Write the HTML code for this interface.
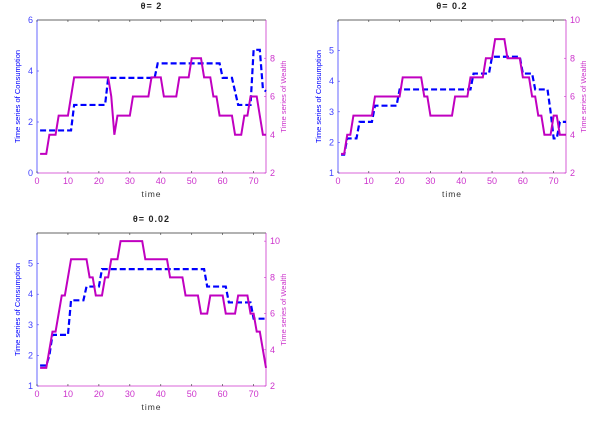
<!DOCTYPE html>
<html><head><meta charset="utf-8"><style>
body{margin:0;background:#fff;width:600px;height:424px;overflow:hidden;font-family:"Liberation Sans",sans-serif}
svg text{font-family:"Liberation Sans",sans-serif}
</style></head><body>
<svg id="svg" width="600" height="424"></svg>
<script>
const times = Array.from({length:74},(_, i)=>i+1);
const c1Cons = [1.67,1.67,1.67,1.67,1.67,1.67,1.67,1.67,1.67,1.67,1.67,2.67,2.67,2.67,2.67,2.67,2.67,2.67,2.67,2.67,2.67,2.67,3.73,3.73,3.73,3.73,3.73,3.73,3.73,3.73,3.73,3.73,3.73,3.73,3.73,3.73,3.73,3.73,4.3,4.3,4.3,4.3,4.3,4.3,4.3,4.3,4.3,4.3,4.3,4.3,4.3,4.3,4.3,4.3,4.3,4.3,4.3,4.3,4.3,3.73,3.73,3.73,3.73,3.2,2.67,2.67,2.67,2.67,2.67,4.83,4.83,4.83,3.3,3.2];
const c1Wealth = [3,3,3,4,4,4,5,5,5,5,6,7,7,7,7,7,7,7,7,7,7,7,7,6,4,5,5,5,5,5,6,6,6,6,6,6,7,7,7,7,6,6,6,6,6,7,7,7,7,8,8,8,8,7,7,7,6,6,5,5,5,5,5,4,4,4,5,5,6,6,6,5,4,4];
const c2Cons = [1.6,1.6,2.13,2.13,2.13,2.13,2.67,2.67,2.67,2.67,2.67,3.2,3.2,3.2,3.2,3.2,3.2,3.2,3.2,3.73,3.73,3.73,3.73,3.73,3.73,3.73,3.73,3.73,3.73,3.73,3.73,3.73,3.73,3.73,3.73,3.73,3.73,3.73,3.73,3.73,3.73,3.73,3.73,4.25,4.25,4.25,4.25,4.25,4.25,4.8,4.8,4.8,4.8,4.8,4.8,4.8,4.8,4.8,4.8,4.25,4.25,4.25,4.25,3.73,3.73,3.73,3.73,3.73,3.0,2.13,2.13,2.67,2.67,2.67];
const c2Wealth = [3,3,4,4,5,5,5,5,5,5,5,6,6,6,6,6,6,6,6,6,7,7,7,7,7,7,7,6,6,5,5,5,5,5,5,5,5,6,6,6,6,6,7,7,7,7,7,8,8,8,9,9,9,9,8,8,8,8,8,7,7,7,6,6,5,5,4,4,4,5,5,4,4,4];
const c3Cons = [1.67,1.67,1.67,2.0,2.67,2.67,2.67,2.67,2.67,2.67,3.8,3.8,3.8,3.8,3.8,4.25,4.25,4.25,4.25,4.25,4.82,4.82,4.82,4.82,4.82,4.82,4.82,4.82,4.82,4.82,4.82,4.82,4.82,4.82,4.82,4.82,4.82,4.82,4.82,4.82,4.82,4.82,4.82,4.82,4.82,4.82,4.82,4.82,4.82,4.82,4.82,4.82,4.82,4.82,4.25,4.25,4.25,4.25,4.25,4.25,4.25,3.73,3.73,3.73,3.73,3.73,3.73,3.73,3.73,3.2,3.2,3.2,3.2,3.2];
const c3Wealth = [3,3,3,4,5,5,6,7,7,8,9,9,9,9,9,9,8,8,7,7,7,8,8,9,9,9,10,10,10,10,10,10,10,10,9,9,9,9,9,9,9,9,8,8,8,8,8,7,7,7,7,7,6,6,6,7,7,7,7,7,6,6,6,6,7,7,7,7,6,6,5,5,4,3];
const xTicks = [0,10,20,30,40,50,60,70];
const c1LeftTicks = [0,2,4,6], c1RightTicks = [2,4,6,8];
const c2LeftTicks = [1,2,3,4,5], c2RightTicks = [2,4,6,8,10];
const c3LeftTicks = [1,2,3,4,5], c3RightTicks = [2,4,6,8,10];

const svg = document.getElementById('svg');
const NS = 'http://www.w3.org/2000/svg';
function mk(tag, attrs, parent){const e=document.createElementNS(NS,tag);for(const k in attrs)e.setAttribute(k,attrs[k]);(parent||svg).appendChild(e);return e;}
const BLUE='#0000ff', MAG='#c000c0', LBLUE='#4040ff', LMAG='#cc33cc';

function drawChart(o){
  const g = mk('g',{});
  
  
  const X = t => o.x0 + (t-0)/(74-0)*(o.x1-o.x0);
  const YL = v => o.y1 - (v-o.lmin)/(o.lmax-o.lmin)*(o.y1-o.y0);
  const YR = v => o.y1 - (v-o.rmin)/(o.rmax-o.rmin)*(o.y1-o.y0);
  // frame
  const top = mk('line',{x1:o.x0,y1:o.y0,x2:o.x1,y2:o.y0,stroke:'#333','stroke-width':0.8},g);
   
  const bot = mk('line',{x1:o.x0,y1:o.y1,x2:o.x1,y2:o.y1,stroke:LMAG,'stroke-width':0.8},g);
   
  const la = mk('line',{x1:o.x0,y1:o.y0,x2:o.x0,y2:o.y1,stroke:LBLUE,'stroke-width':0.8},g);
   
  const ra = mk('line',{x1:o.x1,y1:o.y0,x2:o.x1,y2:o.y1,stroke:LMAG,'stroke-width':0.8},g);
   
  xTicks.forEach(t=>{
    mk('line',{x1:X(t),y1:o.y1,x2:X(t),y2:o.y1-2,stroke:'#333','stroke-width':0.6},g);
    mk('line',{x1:X(t),y1:o.y0,x2:X(t),y2:o.y0+2,stroke:'#333','stroke-width':0.6},g);
    const tx = mk('text',{x:X(t),y:o.y1+11,'font-size':9,fill:LMAG,'text-anchor':'middle'},g);
    tx.textContent=t;
     
  });
  o.lt.forEach(v=>{
    mk('line',{x1:o.x0,y1:YL(v),x2:o.x0+2,y2:YL(v),stroke:LBLUE,'stroke-width':0.6},g);
    const tx = mk('text',{x:o.x0-4,y:YL(v)+3,'font-size':9,fill:LBLUE,'text-anchor':'end'},g);
    tx.textContent=v;
     
  });
  o.rt.forEach(v=>{
    mk('line',{x1:o.x1,y1:YR(v),x2:o.x1-2,y2:YR(v),stroke:LMAG,'stroke-width':0.6},g);
    const tx = mk('text',{x:o.x1+4,y:YR(v)+3,'font-size':9,fill:LMAG,'text-anchor':'start'},g);
    tx.textContent=v;
     
  });
  const cy=(o.y0+o.y1)/2;
  const yl = mk('text',{x:o.x0-17,y:cy,'font-size':7.5,fill:BLUE,'text-anchor':'middle',transform:`rotate(-90 ${o.x0-17} ${cy})`},g);
  yl.textContent='Time series of Consumption';
   
  const yr = mk('text',{x:o.x1+20,y:cy,'font-size':7.5,fill:LMAG,'text-anchor':'middle',transform:`rotate(-90 ${o.x1+20} ${cy})`},g);
  yr.textContent='Time series of Wealth';
   
  const xl = mk('text',{x:(o.x0+o.x1)/2,y:o.y1+24,'font-size':8.5,fill:'#333','text-anchor':'middle','letter-spacing':'1'},g);
  xl.textContent='time';
   
  const ti = mk('text',{x:(o.x0+o.x1)/2,y:o.y0-11,'font-size':9,fill:'#222','text-anchor':'middle','font-weight':'bold','letter-spacing':'1'},g);
  ti.textContent=o.title;
   
  const pc = mk('polyline',{points:times.map((t,i)=>X(t)+','+YL(o.cons[i])).join(' '),fill:'none',stroke:BLUE,'stroke-width':2.2,'stroke-dasharray':'6,3'},g);
   
  const pw = mk('polyline',{points:times.map((t,i)=>X(t)+','+YR(o.wealth[i])).join(' '),fill:'none',stroke:MAG,'stroke-width':2},g);
   
}
drawChart({name:'chart-theta-2',title:'θ= 2',x0:37,x1:266,y0:20,y1:173,lmin:0,lmax:6,rmin:2,rmax:10,lt:c1LeftTicks,rt:c1RightTicks,cons:c1Cons,wealth:c1Wealth});
drawChart({name:'chart-theta-0.2',title:'θ= 0.2',x0:338,x1:566,y0:20,y1:173,lmin:1,lmax:6,rmin:2,rmax:10,lt:c2LeftTicks,rt:c2RightTicks,cons:c2Cons,wealth:c2Wealth});
drawChart({name:'chart-theta-0.02',title:'θ= 0.02',x0:37,x1:266,y0:233,y1:386,lmin:1,lmax:6,rmin:2,rmax:10.45,lt:c3LeftTicks,rt:c3RightTicks,cons:c3Cons,wealth:c3Wealth});
</script>
</body></html>
